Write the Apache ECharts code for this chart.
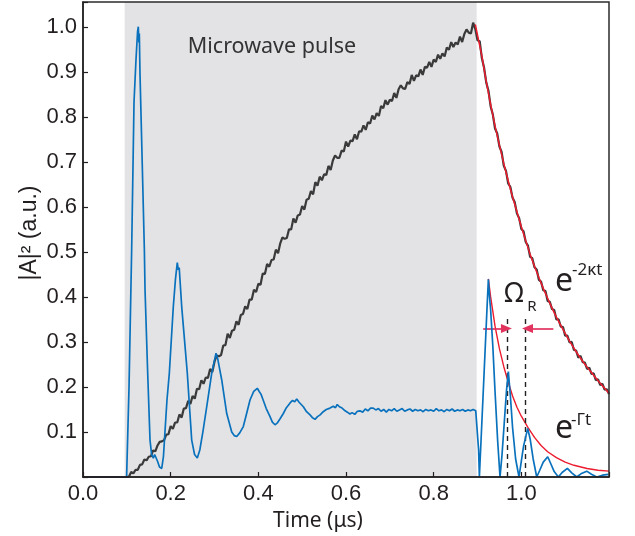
<!DOCTYPE html>
<html>
<head>
<meta charset="utf-8">
<script src="https://cdn.jsdelivr.net/npm/echarts@6/dist/echarts.min.js"></script>
<style>
html,body{margin:0;padding:0;background:#fff;}
#chart{width:635px;height:536px;}
</style>
</head>
<body>
<div id="chart"></div>
<script>
// ---- data ----
const xTickInterval = 0.2;
const yTickInterval = 0.1;
const xMax = 1.2;
const yMax = 1.055;

const pulseWindow = [0.095, 0.898];

// Cavity field |A|^2 (dark trace), sampled every 0.005 us from 0.1 us
const cavityStart = 0.1;
const cavityStep = 0.005;
const cavityValues = [
 0.000,0.001,0.011,0.008,0.016,0.016,0.027,0.028,0.039,0.037,
 0.045,0.046,0.059,0.057,0.070,0.078,0.079,0.082,0.094,0.095,
 0.113,0.107,0.121,0.121,0.139,0.132,0.152,0.153,0.169,0.162,
 0.180,0.174,0.196,0.195,0.215,0.207,0.221,0.220,0.240,0.233,
 0.256,0.270,0.268,0.271,0.292,0.293,0.318,0.309,0.325,0.327,
 0.346,0.338,0.360,0.362,0.379,0.373,0.394,0.394,0.416,0.411,
 0.429,0.427,0.452,0.451,0.473,0.467,0.482,0.483,0.505,0.497,
 0.519,0.532,0.529,0.531,0.550,0.550,0.574,0.565,0.581,0.583,
 0.602,0.594,0.616,0.618,0.635,0.628,0.655,0.647,0.667,0.659,
 0.672,0.671,0.691,0.682,0.703,0.714,0.709,0.709,0.725,0.723,
 0.745,0.734,0.747,0.746,0.761,0.750,0.768,0.767,0.781,0.771,
 0.788,0.785,0.803,0.794,0.808,0.802,0.824,0.819,0.837,0.827,
 0.838,0.835,0.853,0.842,0.861,0.870,0.863,0.862,0.877,0.873,
 0.893,0.880,0.892,0.890,0.905,0.893,0.911,0.909,0.922,0.911,
 0.927,0.922,0.938,0.929,0.941,0.934,0.954,0.949,0.966,0.955,
 0.965,0.961,0.978,0.966,0.984,0.994,0.987,0.985,1.009,0.995,
 0.970,0.968,0.930,0.909,0.876,0.858,0.823,0.805,0.774,0.763,
 0.734,0.722,0.691,0.680,0.652,0.644,0.620,0.610,0.585,0.575,
 0.551,0.546,0.522,0.514,0.489,0.486,0.466,0.461,0.438,0.434,
 0.415,0.413,0.391,0.389,0.373,0.371,0.350,0.350,0.334,0.333,
 0.314,0.314,0.299,0.300,0.282,0.281,0.265,0.269,0.255,0.254,
 0.240,0.243,0.229,0.230,0.215,0.217,0.204,0.207,0.194,0.195,0.184
];

// Qubit excitation (blue trace), [time us, value]
const qubitTrace = [
 [0,0],[0.0995,0],[0.1,0.002],[0.105,0.2],[0.111,0.504],[0.1164,0.833],[0.1209,0.927],[0.1245,0.99],[0.1262,1.0],
 [0.1275,0.965],[0.1285,0.985],[0.130,0.897],[0.134,0.741],[0.140,0.504],[0.1415,0.416],[0.1476,0.23],[0.1529,0.082],
 [0.1565,0.05],[0.1604,0.042],[0.1635,0.05],[0.1659,0.053],[0.170,0.035],[0.1745,0.022],[0.1796,0.019],[0.1835,0.045],
 [0.187,0.1],[0.1915,0.17],[0.1969,0.23],[0.206,0.378],[0.211,0.44],[0.2151,0.476],[0.2175,0.46],[0.2195,0.465],
 [0.2252,0.378],[0.238,0.23],[0.248,0.082],[0.2545,0.05],[0.2608,0.042],[0.2665,0.06],[0.2735,0.1],[0.2822,0.156],
 [0.2936,0.23],[0.3034,0.275],[0.3075,0.262],[0.3164,0.216],[0.3279,0.141],[0.3393,0.10],[0.345,0.092],[0.3507,0.090],
 [0.3575,0.098],[0.3657,0.112],[0.373,0.14],[0.381,0.171],[0.3895,0.19],[0.3935,0.188],[0.3977,0.197],
 [0.402,0.19],[0.406,0.184],[0.411,0.171],[0.418,0.152],[0.4267,0.134],[0.432,0.122],[0.438,0.116],[0.444,0.121],
 [0.450,0.130],[0.457,0.141],[0.464,0.154],[0.472,0.164],[0.478,0.170],[0.483,0.167],[0.4876,0.173],[0.493,0.166],
 [0.4975,0.163],[0.5027,0.156],[0.510,0.145],[0.518,0.138],[0.523,0.132],[0.5293,0.128],[0.535,0.134],[0.541,0.138],
 [0.548,0.145],[0.555,0.150],[0.5635,0.153],[0.571,0.157],[0.576,0.154],[0.580,0.161],[0.585,0.156],[0.591,0.153],
 [0.598,0.147],[0.603,0.144],[0.609,0.140],[0.614,0.143],[0.620,0.139],[0.626,0.146],[0.632,0.147],[0.638,0.144],
 [0.644,0.151],[0.650,0.147],[0.656,0.153],[0.662,0.153],[0.668,0.149],[0.674,0.152],[0.680,0.146],[0.686,0.150],
 [0.692,0.144],[0.698,0.150],[0.704,0.147],[0.710,0.152],[0.716,0.146],[0.722,0.149],[0.728,0.152],[0.734,0.146],
 [0.740,0.149],[0.746,0.151],[0.752,0.146],[0.758,0.150],[0.764,0.147],[0.770,0.149],[0.776,0.145],[0.782,0.150],
 [0.788,0.147],[0.794,0.149],[0.800,0.146],[0.806,0.152],[0.812,0.147],[0.818,0.149],[0.824,0.145],[0.830,0.150],
 [0.836,0.147],[0.842,0.151],[0.848,0.146],[0.854,0.149],[0.860,0.147],[0.866,0.150],[0.872,0.146],[0.878,0.149],
 [0.884,0.147],[0.890,0.150],[0.896,0.147],[0.9005,0.148],[0.9025,0.06],[0.9043,0.0],[0.915,0.23],[0.921,0.36],
 [0.9248,0.439],[0.9275,0.40],[0.930,0.371],[0.935,0.29],[0.94,0.19],[0.946,0.08],[0.9514,0.0],[0.956,0.05],
 [0.961,0.12],[0.966,0.19],[0.9704,0.234],[0.975,0.18],[0.98,0.11],[0.987,0.04],[0.9947,0.0],[1.0,0.035],
 [1.005,0.068],[1.0145,0.108],[1.02,0.085],[1.027,0.04],[1.0351,0.0],[1.042,0.015],[1.05,0.033],[1.0602,0.045],
 [1.067,0.03],[1.075,0.012],[1.0845,0.0],[1.093,0.01],[1.105,0.019],[1.115,0.009],[1.1264,0.0],[1.136,0.007],
 [1.1492,0.013],[1.16,0.006],[1.172,0.0],[1.185,0.004],[1.1985,0.006]
];

// exponential fits (red), [time us, value]
const fitKappa = [
 [0.895,1.005],[0.91,0.935],[0.92,0.878],[0.93,0.827],[0.94,0.780],[0.95,0.737],[0.96,0.696],[0.97,0.658],
 [0.98,0.622],[0.99,0.589],[1.0,0.556],[1.01,0.525],[1.02,0.495],[1.03,0.468],[1.04,0.443],[1.05,0.419],
 [1.06,0.397],[1.07,0.375],[1.08,0.355],[1.09,0.337],[1.10,0.319],[1.11,0.302],[1.12,0.286],[1.13,0.271],
 [1.14,0.257],[1.15,0.244],[1.16,0.232],[1.17,0.220],[1.18,0.208],[1.19,0.197],[1.2,0.186]
];
const fitGamma = [
 [0.9248,0.44],[0.93,0.40],[0.94,0.335],[0.95,0.285],[0.96,0.245],[0.9704,0.21],[0.98,0.18],[0.99,0.155],
 [1.0,0.135],[1.015,0.11],[1.03,0.088],[1.045,0.07],[1.06,0.056],[1.08,0.043],[1.10,0.033],[1.12,0.026],
 [1.15,0.019],[1.175,0.015],[1.2,0.013]
];

// Rabi period markers
const rabiMarks = [0.969, 1.010];
const rabiMarkTop = 0.353;
const arrowLevel = 0.33;
const arrowLeft = [0.913, 0.966];
const arrowRight = [1.073, 1.014];

// ---- build ----
const cavityData = [[0, 0]].concat(cavityValues.map((v, i) => [+(cavityStart + i * cavityStep).toFixed(4), v]));

function isMultiple(v, step) {
  const k = Math.round(v / step);
  return Math.abs(v / step - k) < 1e-6;
}

const chart = echarts.init(document.getElementById('chart'), null, {renderer: 'canvas'});
const axisColor = '#231f20';
const labelFont = 'Liberation Sans, Arial, sans-serif';
const textFont = 'Noto Sans, Open Sans, sans-serif';

const option = {
  animation: false,
  backgroundColor: '#ffffff',
  grid: {left: 83, right: 26, top: 2, bottom: 59, show: true, borderColor: '#2b2b2b', borderWidth: 1.5,
         backgroundColor: 'transparent', z: 10},
  xAxis: {
    type: 'value', min: 0, max: xMax, interval: xTickInterval, z: 10,
    axisLine: {show: true, onZero: false, lineStyle: {color: axisColor, width: 1.5}},
    axisTick: {show: true, inside: true, length: 5, lineStyle: {color: axisColor, width: 1.2}},
    axisLabel: {fontSize: 22, fontFamily: labelFont, color: axisColor, margin: 6,
      formatter: v => (isMultiple(v, xTickInterval) && v < xMax - 1e-6) ? v.toFixed(1) : ''},
    splitLine: {show: false}
  },
  yAxis: {
    type: 'value', min: 0, max: yMax, interval: yTickInterval, z: 10,
    axisLine: {show: true, onZero: false, lineStyle: {color: axisColor, width: 1.5}},
    axisTick: {show: true, inside: true, length: 5, lineStyle: {color: axisColor, width: 1.2}},
    axisLabel: {fontSize: 22, fontFamily: labelFont, color: axisColor, margin: 6,
      formatter: v => (isMultiple(v, yTickInterval) && v > 1e-6) ? v.toFixed(1) : ''},
    splitLine: {show: false}
  },
  series: [
    {
      name: 'pulse', type: 'line', data: [[0, 0]], symbol: 'none', silent: true, z: 0,
      lineStyle: {opacity: 0},
      markArea: {silent: true, itemStyle: {color: '#e3e3e6'},
        data: [[{xAxis: pulseWindow[0]}, {xAxis: pulseWindow[1]}]]}
    },
    {
      name: 'cavity', type: 'line', data: cavityData, symbol: 'none', silent: true, z: 3,
      lineStyle: {color: '#3a3a3a', width: 2.2}
    },
    {
      name: 'kappa fit', type: 'line', data: fitKappa, symbol: 'none', silent: true, z: 4,
      lineStyle: {color: '#ec1c2e', width: 1.5}
    },
    {
      name: 'gamma fit', type: 'line', data: fitGamma, symbol: 'none', silent: true, z: 4,
      lineStyle: {color: '#ec1c2e', width: 1.4}
    },
    {
      name: 'qubit', type: 'line', data: qubitTrace, symbol: 'none', silent: true, z: 5,
      lineStyle: {color: '#0a72bd', width: 1.7}
    },
    {
      name: 'marks', type: 'line', data: [], symbol: 'none', silent: true, z: 6,
      markLine: {
        silent: true, symbol: 'none', label: {show: false},
        lineStyle: {color: '#222', type: [5, 4], width: 1.4},
        data: rabiMarks.map(t => [{coord: [t, 0]}, {coord: [t, rabiMarkTop]}])
      }
    },
    {
      name: 'arrows', type: 'line', data: [], symbol: 'none', silent: true, z: 6,
      markLine: {
        silent: true, symbol: ['none', 'triangle'], symbolSize: [9, 11], label: {show: false},
        lineStyle: {color: '#e2335f', type: 'solid', width: 1.7},
        data: [
          [{coord: [arrowLeft[0], arrowLevel]}, {coord: [arrowLeft[1], arrowLevel]}],
          [{coord: [arrowRight[0], arrowLevel]}, {coord: [arrowRight[1], arrowLevel]}]
        ]
      }
    }
  ],
  graphic: [
    {type: 'text', x: 272, y: 47, silent: true, z: 20,
     style: {text: 'Microwave pulse', font: '21.5px ' + textFont, fill: '#333', align: 'center', verticalAlign: 'middle'}},
    {type: 'text', x: 318, y: 521, silent: true, z: 20,
     style: {text: 'Time (μs)', font: '21px ' + textFont, fill: axisColor, align: 'center', verticalAlign: 'middle'}},
    {type: 'text', x: 30, y: 233, rotation: Math.PI / 2, silent: true, z: 20,
     style: {text: '|A|² (a.u.)', font: '23px ' + labelFont, fill: axisColor, align: 'center', verticalAlign: 'middle'}},
    {type: 'text', x: 514, y: 294, silent: true, z: 20,
     style: {text: 'Ω', font: '27px ' + textFont, fill: '#231f20', align: 'center', verticalAlign: 'middle'}},
    {type: 'text', x: 532, y: 307, silent: true, z: 20,
     style: {text: 'R', font: '15px ' + textFont, fill: '#231f20', align: 'center', verticalAlign: 'middle'}},
    {type: 'text', x: 555, y: 282, silent: true, z: 20,
     style: {text: 'e', font: '32px ' + textFont, fill: '#231f20', align: 'left', verticalAlign: 'middle'}},
    {type: 'text', x: 572, y: 270, silent: true, z: 20,
     style: {text: '-2κt', font: '17px ' + textFont, fill: '#231f20', align: 'left', verticalAlign: 'middle'}},
    {type: 'text', x: 555, y: 429, silent: true, z: 20,
     style: {text: 'e', font: '32px ' + textFont, fill: '#231f20', align: 'left', verticalAlign: 'middle'}},
    {type: 'text', x: 571, y: 420, silent: true, z: 20,
     style: {text: '-Γt', font: '17px ' + textFont, fill: '#231f20', align: 'left', verticalAlign: 'middle'}}
  ]
};
chart.setOption(option);
</script>
</body>
</html>
